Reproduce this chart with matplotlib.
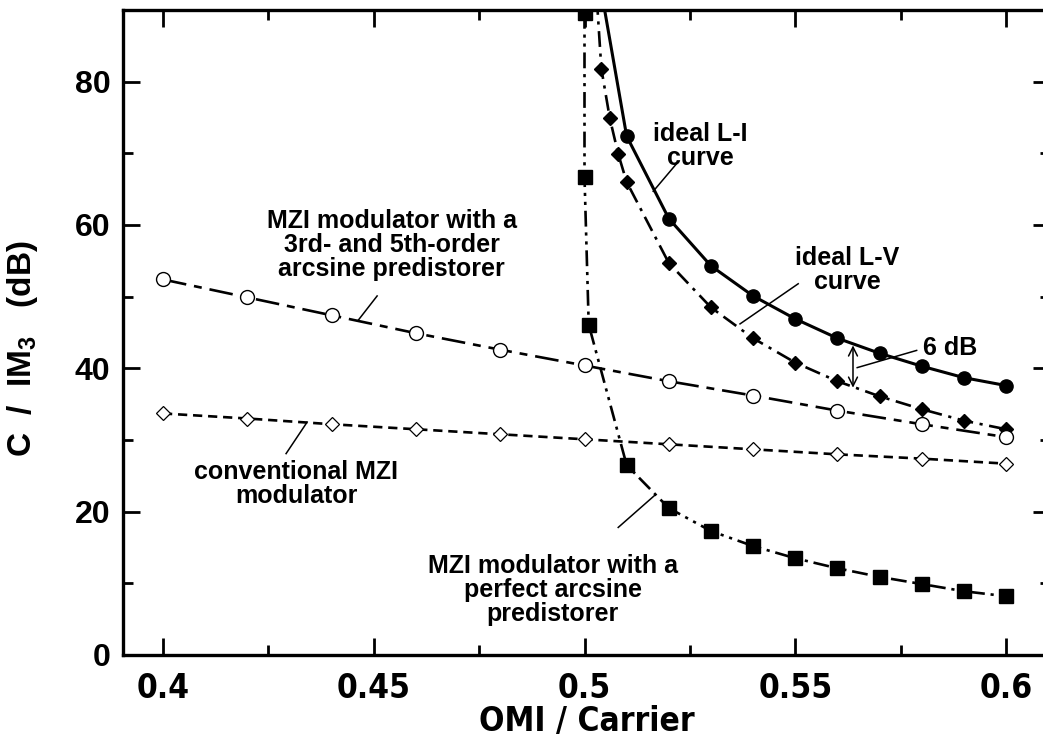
import numpy as np
import matplotlib as mpl
import matplotlib.pyplot as plt
from matplotlib.ticker import MultipleLocator

mpl.rcParams.update({"font.family": ["Liberation Sans", "DejaVu Sans"], "font.weight": "bold",
                     "axes.labelweight": "bold",
                     "mathtext.fontset": "custom", "mathtext.rm": "Liberation Sans:bold",
                     "mathtext.default": "rm"})
COND = dict(family=["DejaVu Sans"], fontstretch="condensed", fontweight="bold")

# ---- data (OMI per carrier vs C/IM3 in dB) ----
omi_li = [0.503, 0.51, 0.52, 0.53, 0.54, 0.55, 0.56, 0.57, 0.58, 0.59, 0.60]
cim_li = [96.0, 72.4, 60.9, 54.3, 50.1, 46.9, 44.2, 42.1, 40.3, 38.7, 37.6]

omi_lv = [0.502, 0.504, 0.506, 0.508, 0.51, 0.52, 0.53, 0.54, 0.55, 0.56, 0.57, 0.58, 0.59, 0.60]
cim_lv = [100.0, 81.8, 74.9, 69.9, 66.0, 54.7, 48.5, 44.2, 40.8, 38.2, 36.1, 34.3, 32.7, 31.5]

omi_35 = [0.40, 0.42, 0.44, 0.46, 0.48, 0.50, 0.52, 0.54, 0.56, 0.58, 0.60]
cim_35 = [52.4, 49.9, 47.4, 44.9, 42.6, 40.4, 38.2, 36.2, 34.1, 32.2, 30.4]

omi_conv = [0.40, 0.42, 0.44, 0.46, 0.48, 0.50, 0.52, 0.54, 0.56, 0.58, 0.60]
cim_conv = [33.7, 33.0, 32.2, 31.5, 30.8, 30.1, 29.4, 28.7, 28.0, 27.4, 26.7]

omi_perf = [0.500, 0.500, 0.501, 0.51, 0.52, 0.53, 0.54, 0.55, 0.56, 0.57, 0.58, 0.59, 0.60]
cim_perf = [89.6, 66.7, 46.1, 26.5, 20.5, 17.3, 15.2, 13.5, 12.1, 10.9, 9.9, 8.9, 8.2]

XTICKS = [0.4, 0.45, 0.5, 0.55, 0.6]
XTICKLABELS = ["0.4", "0.45", "0.5", "0.55", "0.6"]

fig = plt.figure(figsize=(10.43, 7.41), dpi=100)
W, H = 1043, 741
ax = fig.add_axes([123 / W, 86 / H, (1050 - 123) / W, (731 - 86) / H])

LW = 1.9
ax.plot(omi_li, cim_li, "-", color="k", lw=2.2, marker="o", ms=9.5, mfc="k", mec="k")
ax.plot(omi_lv, cim_lv, color="k", lw=LW, dashes=(6, 2.5, 1.2, 2.5), marker="D", ms=7, mfc="k", mec="k")
ax.plot(omi_35, cim_35, color="k", lw=LW, dashes=(9, 3, 3, 3), marker="o", ms=10, mfc="white", mec="k", mew=1.0)
ax.plot(omi_conv, cim_conv, color="k", lw=LW, dashes=(3.5, 2.2), marker="D", ms=7, mfc="white", mec="k", mew=0.9)
ax.plot(omi_perf, cim_perf, color="k", lw=LW, dashes=(6, 2.2, 1.2, 2.2, 1.2, 2.2), marker="s", ms=9.5, mfc="k", mec="k")

ax.set_xlim(0.4 - 40 / 4215, 0.6 + 44 / 4215)
ax.set_ylim(0, 90)
ax.set_xticks(XTICKS)
ax.set_xticklabels(XTICKLABELS, fontsize=24, **COND)
ax.xaxis.set_minor_locator(MultipleLocator(0.025))
ax.yaxis.set_major_locator(MultipleLocator(20))
ax.yaxis.set_minor_locator(MultipleLocator(10))
ax.tick_params(which="both", direction="in", top=True, right=True, width=2)
ax.tick_params(which="major", length=12)
ax.tick_params(which="minor", length=7)
ax.tick_params(axis="y", labelsize=23, pad=9)
ax.tick_params(axis="x", pad=12)
for s in ax.spines.values():
    s.set_linewidth(2.4)

ax.set_xlabel("OMI / Carrier", fontsize=24, labelpad=0, **COND)
ax.set_ylabel("C  /  IM$_3$   (dB)", fontsize=24, fontweight="bold")
ax.yaxis.set_label_coords(-0.09, 0.475)

# ---- annotations ----
tk = dict(ha="center", va="center", fontsize=18, linespacing=1.0)
ax.text(0.5274, 71.0, "ideal L-I\ncurve", **tk)
ax.plot([0.5163, 0.5222], [64.7, 68.8], color="k", lw=1.1)
ax.text(0.5623, 53.7, "ideal L-V\ncurve", **tk)
ax.plot([0.5369, 0.5507], [46.2, 51.8], color="k", lw=1.1)
ax.text(0.4543, 57.2, "MZI modulator with a\n3rd- and 5th-order\narcsine predistorer", **tk)
ax.plot([0.4463, 0.4508], [46.7, 50.1], color="k", lw=1.1)
ax.text(0.4316, 23.9, "conventional MZI\nmodulator", **tk)
ax.plot([0.4292, 0.4342], [28.1, 32.5], color="k", lw=1.1)
ax.text(0.4925, 9.1, "MZI modulator with a\nperfect arcsine\npredistorer", **tk)
ax.plot([0.5080, 0.5167], [17.8, 22.3], color="k", lw=1.1)
ax.annotate("", xy=(0.5637, 37.3), xytext=(0.5637, 43.2),
            arrowprops=dict(arrowstyle="<->", lw=1.1, color="k", mutation_scale=16, shrinkA=0, shrinkB=0))
ax.plot([0.5647, 0.5788], [40.1, 42.5], color="k", lw=1.1)
ax.text(0.5803, 42.8, "6 dB", ha="left", va="center", fontsize=18)

fig.savefig("out.png", dpi=100)
